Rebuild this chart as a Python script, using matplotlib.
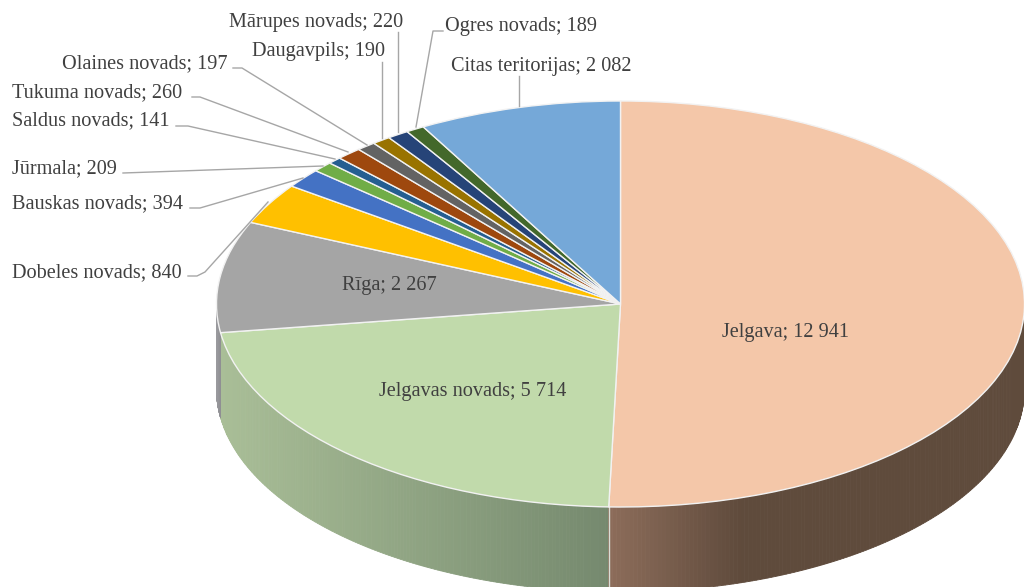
import numpy as np
import matplotlib
matplotlib.use("Agg")
import matplotlib.pyplot as plt
from matplotlib.colors import to_rgb

names = ["Jelgava", "Jelgavas novads", "Rīga", "Dobeles novads", "Bauskas novads",
         "Jūrmala", "Saldus novads", "Tukuma novads", "Olaines novads", "Daugavpils",
         "Mārupes novads", "Ogres novads", "Citas teritorijas"]
values = [12941, 5714, 2267, 840, 394, 209, 141, 260, 197, 190, 220, 189, 2082]
value_labels = ["12 941", "5 714", "2 267", "840", "394", "209", "141", "260", "197",
                "190", "220", "189", "2 082"]
colors = ["#F4C7A9", "#C1DAAB", "#A5A5A5", "#FFC000", "#4472C4", "#70AD47", "#255E91",
          "#9E480E", "#636363", "#997300", "#264478", "#43682B", "#75A8D8"]

# label placement in image pixels: name -> (x, y, ha)
label_pos = {
    "Jelgava": (786, 331, "center"),
    "Jelgavas novads": (473, 390, "center"),
    "Rīga": (389, 284, "center"),
    "Dobeles novads": (12, 271, "left"),
    "Bauskas novads": (12, 202, "left"),
    "Jūrmala": (12, 167, "left"),
    "Saldus novads": (12, 119, "left"),
    "Tukuma novads": (12, 91, "left"),
    "Olaines novads": (62, 62, "left"),
    "Daugavpils": (252, 50, "left"),
    "Mārupes novads": (229, 21, "left"),
    "Ogres novads": (445, 25, "left"),
    "Citas teritorijas": (451, 65, "left"),
}
# leader lines in image pixels
leaders = {
    "Dobeles novads": [(188, 276), (197, 276), (205, 272), (268, 202)],
    "Bauskas novads": [(190, 208), (200, 208), (303, 178)],
    "Jūrmala": [(123, 173), (323, 166)],
    "Saldus novads": [(176, 126), (188, 126), (335, 159)],
    "Tukuma novads": [(192, 97), (200, 97), (348, 152)],
    "Olaines novads": [(233, 68), (242, 68), (367, 145)],
    "Daugavpils": [(382, 62), (382, 138)],
    "Mārupes novads": [(398, 32), (398, 132)],
    "Ogres novads": [(443, 31), (433, 31), (416, 127)],
    "Citas teritorijas": [(519, 76), (519, 106)],
}

W, H = 1024, 587
cx, cy, rx, ry = 620.5, 304, 404, 203
depth = 85 / ry

# wall shading, left to right colour per slice
wall_shades = {
    1: ("#A9BE97", "#75896E"),
    2: ("#9A9A9E", "#8E8E92"),
    0: ("#8C6C5A", "#5F4B3C"),
}


def px(x, y):
    return (x - cx) / rx, (cy - y) / ry


fig = plt.figure(figsize=(W / 100, H / 100), dpi=100)
ax = fig.add_axes([0, 0, 1, 1])

# side wall first, as thin strips so the shade can change along x
total = sum(values)
edges = np.cumsum([0] + values) / total * 360
for i in wall_shades:
    start = max(edges[i], 90)
    end = min(edges[i + 1], 270)
    th = np.radians(np.linspace(start, end, 160))
    xs = np.sin(th)
    ys = np.cos(th)
    c0 = np.array(to_rgb(wall_shades[i][0]))
    c1 = np.array(to_rgb(wall_shades[i][1]))
    lo, hi = xs.min(), xs.max()
    for k in range(len(th) - 1):
        t = (min(xs[k], xs[k + 1]) - lo) / max(hi - lo, 1e-6)
        if i == 0:
            t = min(t * 3.2, 1)  # brown goes dark quickly
        col = c0 + (c1 - c0) * t
        ax.fill([xs[k], xs[k + 1], xs[k + 1], xs[k]],
                [ys[k], ys[k + 1], ys[k + 1] - depth, ys[k] - depth],
                color=col, lw=0.6, zorder=1)

# seam between the two walls
seam = np.radians(edges[1])
ax.plot([np.sin(seam)] * 2, [np.cos(seam), np.cos(seam) - depth], color="#D8DDD5", lw=1, zorder=2)

# top face
wedges, _ = ax.pie(values, colors=colors, startangle=90, counterclock=False, radius=1,
                   wedgeprops={"edgecolor": "#F2F2F2", "linewidth": 1.0})
for w in wedges:
    w.set_zorder(3)

ax.set_aspect("auto")
ax.set_xlim(px(0, 0)[0], px(W, 0)[0])
ax.set_ylim(px(0, H)[1], px(0, 0)[1])
ax.axis("off")

for name, val in zip(names, value_labels):
    x, y, ha = label_pos[name]
    xd, yd = px(x, y + 1.5)
    ax.text(xd, yd, name + "; " + val, ha=ha, va="center", fontsize=14.6,
            family="Liberation Serif", color="#404040", zorder=5)

for name, pts in leaders.items():
    pts = [px(*p) for p in pts]
    ax.plot([p[0] for p in pts], [p[1] for p in pts], color="#A6A6A6", lw=1, zorder=4)

fig.savefig("out.png", dpi=100)
